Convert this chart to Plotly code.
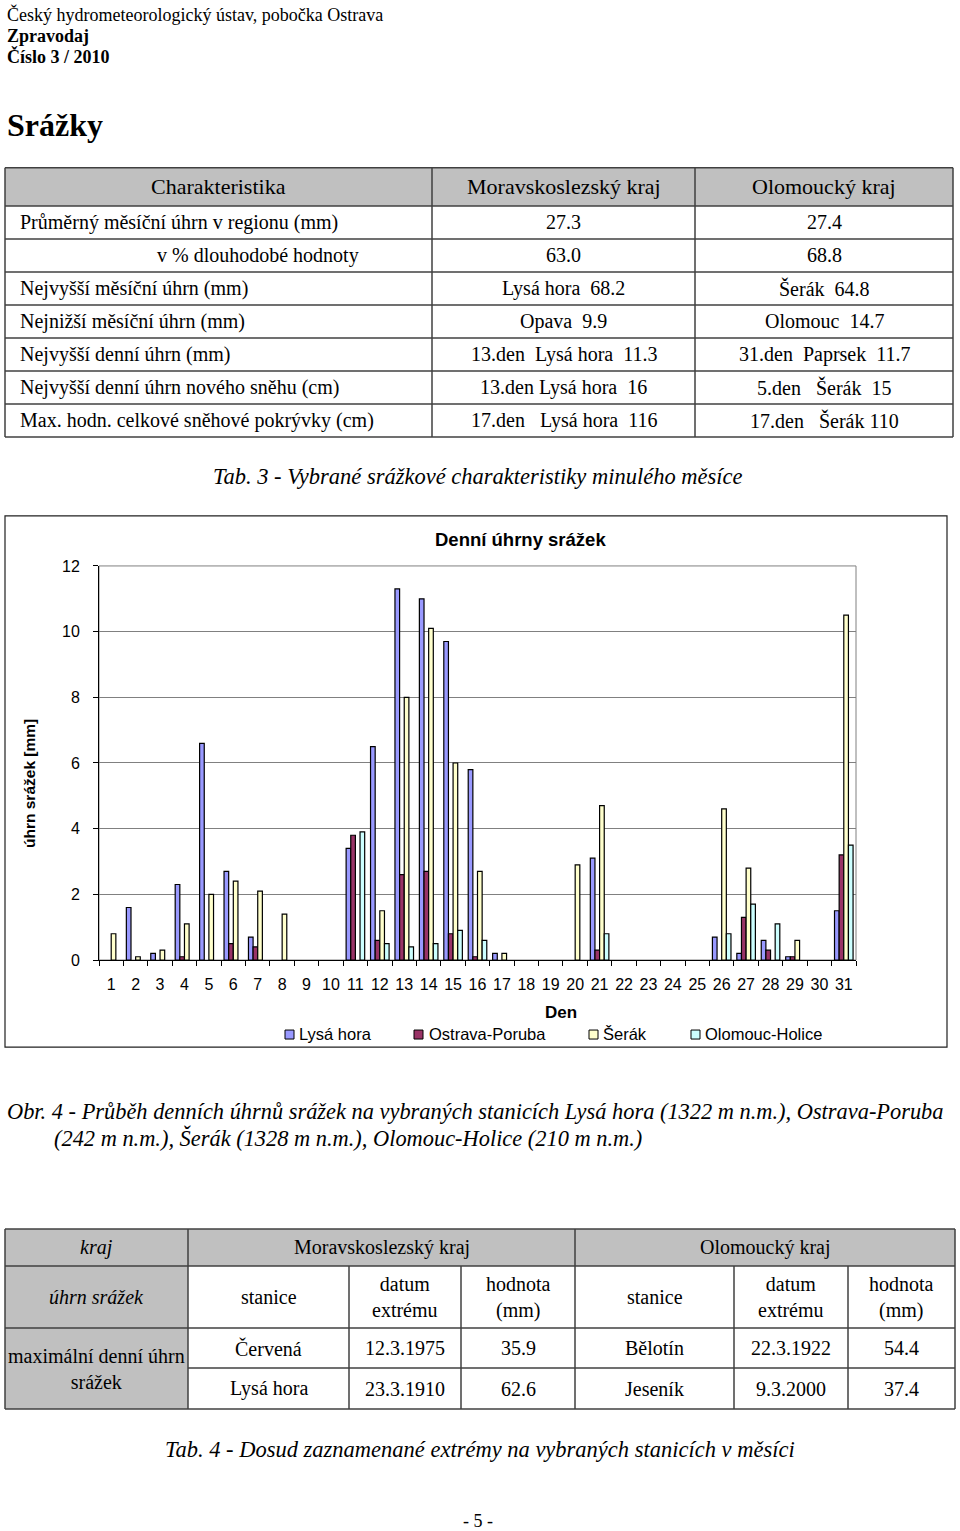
import plotly.graph_objects as go

# ---------------- data ----------------
days = [str(d) for d in range(1, 32)]
lysa_hora = [0, 1.6, 0.2, 2.3, 6.6, 2.7, 0.7, 0, 0, 0, 3.4, 6.5, 11.3, 11.0, 9.7, 5.8, 0.2, 0, 0, 0,
             3.1, 0, 0, 0, 0, 0.7, 0.2, 0.6, 0.1, 0, 1.5]
ostrava_poruba = [0, 0, 0, 0.1, 0, 0.5, 0.4, 0, 0, 0, 3.8, 0.6, 2.6, 2.7, 0.8, 0.1, 0, 0, 0, 0,
                  0.3, 0, 0, 0, 0, 0, 1.3, 0.3, 0.1, 0, 3.2]
serak = [0.8, 0.1, 0.3, 1.1, 2.0, 2.4, 2.1, 1.4, 0, 0, 0, 1.5, 8.0, 10.1, 6.0, 2.7, 0.2, 0, 0, 2.9,
         4.7, 0, 0, 0, 0, 4.6, 2.8, 0, 0.6, 0, 10.5]
olomouc_holice = [0, 0, 0, 0, 0, 0, 0, 0, 0, 0, 3.9, 0.5, 0.4, 0.5, 0.9, 0.6, 0, 0, 0, 0,
                  0.8, 0, 0, 0, 0, 0.8, 1.7, 1.1, 0, 0, 3.5]
series_names = ["Lysá hora", "Ostrava-Poruba", "Šerák", "Olomouc-Holice"]
y_ticks = [0, 2, 4, 6, 8, 10, 12]

header_lines = ["Český hydrometeorologický ústav, pobočka Ostrava", "Zpravodaj", "Číslo 3 / 2010"]
page_title = "Srážky"

t1_header = ["Charakteristika", "Moravskoslezský kraj", "Olomoucký kraj"]
t1_labels = ["Průměrný měsíční úhrn v regionu (mm)", "v % dlouhodobé hodnoty",
             "Nejvyšší měsíční úhrn (mm)", "Nejnižší měsíční úhrn (mm)",
             "Nejvyšší denní úhrn (mm)", "Nejvyšší denní úhrn nového sněhu (cm)",
             "Max. hodn. celkové sněhové pokrývky (cm)"]
t1_msk = ["27.3", "63.0", "Lysá hora  68.2", "Opava  9.9", "13.den  Lysá hora  11.3",
          "13.den Lysá hora  16", "17.den   Lysá hora  116"]
t1_olk = ["27.4", "68.8", "Šerák  64.8", "Olomouc  14.7", "31.den  Paprsek  11.7",
          "5.den   Šerák  15", "17.den   Šerák 110"]
caption_t3 = "Tab. 3 - Vybrané srážkové charakteristiky minulého měsíce"

chart_title = "Denní úhrny srážek"
x_title = "Den"
y_title = "úhrn srážek [mm]"

caption_o4 = ["Obr. 4 - Průběh denních úhrnů srážek na vybraných stanicích Lysá hora (1322 m n.m.), Ostrava-Poruba",
              "(242 m n.m.), Šerák (1328 m n.m.), Olomouc-Holice (210 m n.m.)"]

t2_row1 = ["kraj", "Moravskoslezský kraj", "Olomoucký kraj"]
t2_row2 = ["úhrn srážek", "stanice", "datum<br>extrému", "hodnota<br>(mm)",
           "stanice", "datum<br>extrému", "hodnota<br>(mm)"]
t2_rowlabel = "maximální denní úhrn<br>srážek"
t2_data = [["Červená", "12.3.1975", "35.9", "Bělotín", "22.3.1922", "54.4"],
           ["Lysá hora", "23.3.1910", "62.6", "Jeseník", "9.3.2000", "37.4"]]
caption_t4 = "Tab. 4 - Dosud zaznamenané extrémy na vybraných stanicích v měsíci"
page_no = "- 5 -"

# ---------------- layout helpers ----------------
W, H = 960, 1531
SERIF = "Liberation Serif"
SANS = "Liberation Sans"
Y_OFF, Y_SCALE = 7.16, 0.9887   # empirical correction of the vertical placement


def X(px):
    return px / W


def Y(py):
    return 1 - ((py - Y_OFF) / Y_SCALE) / H


def nb(s):
    return s.replace("  ", "\u00a0\u00a0")


annotations = []
shapes = []


def txt(x, y, text, size, family=SERIF, xanchor="left", bold=False, italic=False, angle=0):
    t = nb(text)
    if bold:
        t = "<b>" + t + "</b>"
    if italic:
        t = "<i>" + t + "</i>"
    annotations.append(dict(x=X(x), y=Y(y), xref="paper", yref="paper", text=t,
                            showarrow=False, xanchor=xanchor, yanchor="middle",
                            textangle=angle, font=dict(family=family, size=size, color="black")))


def line(x0, y0, x1, y1, color="#404040", width=1.5):
    shapes.append(dict(type="line", xref="paper", yref="paper", x0=X(x0), y0=Y(y0), x1=X(x1), y1=Y(y1),
                       line=dict(color=color, width=width)))


def rect(x0, y0, x1, y1, fill=None, color=None, width=0, layer="below"):
    shapes.append(dict(type="rect", xref="paper", yref="paper", x0=X(x0), y0=Y(y0), x1=X(x1), y1=Y(y1),
                       fillcolor=fill if fill else "rgba(0,0,0,0)",
                       line=dict(color=color if color else "rgba(0,0,0,0)", width=width), layer=layer))


# ---------------- page header ----------------
txt(5, 14, header_lines[0], 18)
txt(5, 35, header_lines[1], 18, bold=True)
txt(5, 56, header_lines[2], 18, bold=True)
txt(5, 124, page_title, 32, bold=True)

# ---------------- table 1 ----------------
T1_COLS = [5, 432, 695, 953]
T1_TOP, T1_HEAD, T1_ROW = 167, 205, 33
t1_bottom = T1_HEAD + T1_ROW * len(t1_labels)
rect(T1_COLS[0], T1_TOP, T1_COLS[-1], T1_HEAD, fill="#C0C0C0")
for i, h in enumerate(t1_header):
    txt((T1_COLS[i] + T1_COLS[i + 1]) / 2, (T1_TOP + T1_HEAD) / 2, h, 22, xanchor="center")
line(T1_COLS[0], T1_TOP, T1_COLS[-1], T1_TOP)
for r in range(len(t1_labels) + 1):
    yy = T1_HEAD + T1_ROW * r
    line(T1_COLS[0], yy, T1_COLS[-1], yy)
for cx in T1_COLS:
    line(cx, T1_TOP, cx, t1_bottom)
for r, lab in enumerate(t1_labels):
    yc = T1_HEAD + T1_ROW * r + T1_ROW / 2
    txt(155 if r == 1 else 18, yc, lab, 20)
    txt((T1_COLS[1] + T1_COLS[2]) / 2, yc, t1_msk[r], 20, xanchor="center")
    txt((T1_COLS[2] + T1_COLS[3]) / 2, yc, t1_olk[r], 20, xanchor="center")
txt(478, 476, caption_t3, 22.5, xanchor="center", italic=True)

# ---------------- chart ----------------
PL, PR, PT, PB = 99, 856, 565, 959
rect(5, 515, 947, 1046, color="#202020", width=1.2, layer="above")
rect(PL, PT, PR, PB, color="#808080", width=1, layer="below")

colors = ["#9999FF", "#993366", "#FFFFCC", "#CCFFFF"]
fig = go.Figure()
for name, vals, col in zip(series_names, [lysa_hora, ostrava_poruba, serak, olomouc_holice], colors):
    fig.add_trace(go.Bar(x=days, y=[v if v else None for v in vals], name=name,
                         marker=dict(color=col, line=dict(color="black", width=1.2)),
                         showlegend=False, hoverinfo="skip"))

txt(520, 539, chart_title, 18.5, family=SANS, xanchor="center", bold=True)
txt(30, 783, y_title, 15.5, family=SANS, xanchor="center", bold=True, angle=-90)
txt(561, 1011, x_title, 17, family=SANS, xanchor="center", bold=True)

leg_sq = [285, 414, 589, 691]
leg_tx = [297, 427, 601, 703]
for sx, tx, col, name in zip(leg_sq, leg_tx, colors, series_names):
    rect(sx, 1029, sx + 9, 1038, fill=col, color="black", width=1, layer="above")
    txt(tx, 1033, name, 16.5, family=SANS)

fig.update_layout(
    width=W, height=H, margin=dict(l=0, r=0, t=0, b=0),
    paper_bgcolor="white", plot_bgcolor="white",
    barmode="group", bargap=0.24, bargroupgap=0,
    xaxis=dict(type="category", domain=[X(PL), X(PR)], tickson="boundaries", ticks="outside",
               ticklen=5, tickcolor="black", showline=True, linecolor="black", linewidth=1,
               tickangle=0, tickfont=dict(family=SANS, size=16, color="black"), ticklabelstandoff=10,
               showgrid=False, fixedrange=True),
    yaxis=dict(domain=[Y(PB), Y(PT)], range=[0, 12], tickvals=y_ticks, ticks="outside",
               ticklen=5, tickcolor="black", showline=True, linecolor="black", linewidth=1,
               showgrid=True, gridcolor="#808080", gridwidth=1, zeroline=False,
               tickfont=dict(family=SANS, size=16, color="black"), ticklabelstandoff=10,
               fixedrange=True),
    showlegend=False, hovermode=False,
)

# ---------------- caption obr. 4 ----------------
txt(5, 1110, caption_o4[0], 22.4, italic=True)
txt(52, 1137, caption_o4[1], 22.4, italic=True)

# ---------------- table 2 ----------------
T2_COLS = [5, 188, 349, 461, 575, 734, 848, 955]
T2_ROWS = [1228, 1265, 1327, 1367, 1408]
rect(T2_COLS[0], T2_ROWS[0], T2_COLS[-1], T2_ROWS[1], fill="#C0C0C0")
rect(T2_COLS[0], T2_ROWS[1], T2_COLS[1], T2_ROWS[-1], fill="#C0C0C0")
for yy in [T2_ROWS[0], T2_ROWS[1], T2_ROWS[2], T2_ROWS[4]]:
    line(T2_COLS[0], yy, T2_COLS[-1], yy)
line(T2_COLS[1], T2_ROWS[3], T2_COLS[-1], T2_ROWS[3])
for i, cx in enumerate(T2_COLS):
    top = T2_ROWS[0] if i in (0, 1, 4, 7) else T2_ROWS[1]
    line(cx, top, cx, T2_ROWS[-1])
yc1 = (T2_ROWS[0] + T2_ROWS[1]) / 2
txt((T2_COLS[0] + T2_COLS[1]) / 2, yc1, t2_row1[0], 20, xanchor="center", italic=True)
txt((T2_COLS[1] + T2_COLS[4]) / 2, yc1, t2_row1[1], 20, xanchor="center")
txt((T2_COLS[4] + T2_COLS[7]) / 2, yc1, t2_row1[2], 20, xanchor="center")
yc2 = (T2_ROWS[1] + T2_ROWS[2]) / 2
for i, t in enumerate(t2_row2):
    txt((T2_COLS[i] + T2_COLS[i + 1]) / 2, yc2, t, 20, xanchor="center", italic=(i == 0))
txt((T2_COLS[0] + T2_COLS[1]) / 2, (T2_ROWS[2] + T2_ROWS[4]) / 2, t2_rowlabel, 20, xanchor="center")
for r, row in enumerate(t2_data):
    yc = (T2_ROWS[2 + r] + T2_ROWS[3 + r]) / 2
    for i, t in enumerate(row):
        txt((T2_COLS[i + 1] + T2_COLS[i + 2]) / 2, yc, t, 20, xanchor="center")

txt(480, 1448, caption_t4, 22.5, xanchor="center", italic=True)
txt(478, 1520, page_no, 18, xanchor="center")

fig.update_layout(annotations=annotations, shapes=shapes)
fig.write_html("out.html", config={"displayModeBar": False},
               post_script="document.body.style.margin='0';document.body.style.overflow='hidden';")
